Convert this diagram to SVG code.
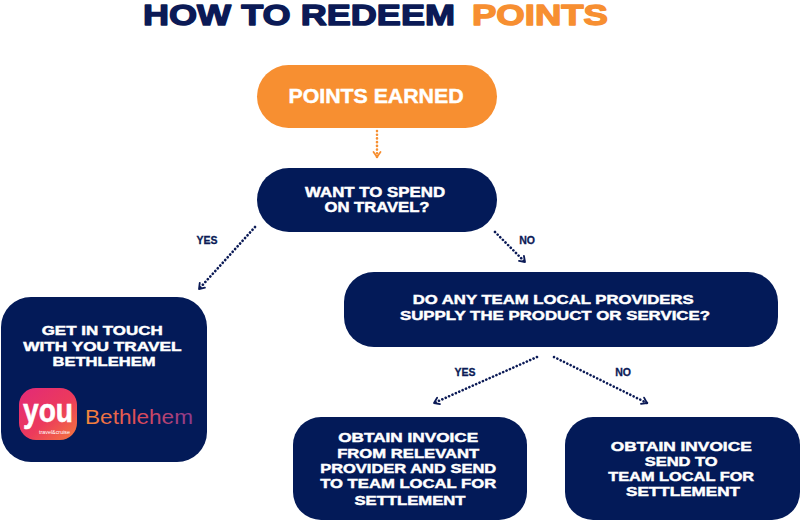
<svg xmlns="http://www.w3.org/2000/svg" width="800" height="521" viewBox="0 0 800 521">
<defs>
<style>
.t{font-family:"Liberation Sans",Arial,sans-serif;font-weight:bold;fill:#ffffff;stroke:#ffffff;stroke-width:0.45;}
.lbl{font-family:"Liberation Sans",Arial,sans-serif;font-weight:bold;fill:#0b1a56;stroke:#0b1a56;stroke-width:0.3;font-size:10.5px;}
.box{fill:#031a58;}
.dot{fill:none;stroke:#0b1a56;stroke-width:2.6;stroke-dasharray:0.1 3.6;stroke-linecap:round;}
.dotO{fill:none;stroke:#f78f31;stroke-width:2.6;stroke-dasharray:0.1 3.6;stroke-linecap:round;}
.ttl{font-family:"Liberation Sans",Arial,sans-serif;font-weight:bold;font-size:30px;stroke-width:1.4;stroke-linejoin:round;}
</style>
<marker id="ah" viewBox="0 0 10 10" refX="7" refY="5" markerWidth="10" markerHeight="10" markerUnits="userSpaceOnUse" orient="auto">
<path d="M2,1.5 L7,5 L2,8.5" fill="none" stroke="#0b1a56" stroke-width="1.8" stroke-linecap="round" stroke-linejoin="round"/>
</marker>
<marker id="ahO" viewBox="0 0 10 10" refX="7" refY="5" markerWidth="10" markerHeight="10" markerUnits="userSpaceOnUse" orient="auto">
<path d="M2,1.5 L7,5 L2,8.5" fill="none" stroke="#f78f31" stroke-width="1.8" stroke-linecap="round" stroke-linejoin="round"/>
</marker>
<linearGradient id="logoG" x1="0" y1="0" x2="1" y2="1">
<stop offset="0" stop-color="#e22a78"/>
<stop offset="0.55" stop-color="#ec3a5c"/>
<stop offset="1" stop-color="#f47a3c"/>
</linearGradient>
<linearGradient id="bethG" x1="0" y1="0" x2="1" y2="0">
<stop offset="0" stop-color="#f6883a"/>
<stop offset="0.5" stop-color="#de4a58"/>
<stop offset="1" stop-color="#8a3b8e"/>
</linearGradient>
</defs>
<rect width="800" height="521" fill="#ffffff"/>

<g id="title">
<text class="ttl" x="143" y="25" fill="#0b1a56" stroke="#0b1a56" textLength="312" lengthAdjust="spacingAndGlyphs">HOW TO REDEEM</text>
<text class="ttl" x="472" y="25" fill="#f78f31" stroke="#f78f31" textLength="136" lengthAdjust="spacingAndGlyphs">POINTS</text>
</g>

<g id="connectors">
<line class="dotO" x1="377" y1="131" x2="377" y2="157" marker-end="url(#ahO)"/>
<line class="dot" x1="255" y1="227" x2="199" y2="289" marker-end="url(#ah)"/>
<line class="dot" x1="495" y1="232" x2="525" y2="262" marker-end="url(#ah)"/>
<line class="dot" x1="537" y1="357" x2="434" y2="403" marker-end="url(#ah)"/>
<line class="dot" x1="554" y1="357" x2="647" y2="403" marker-end="url(#ah)"/>
<text class="lbl" x="207" y="244" text-anchor="middle">YES</text>
<text class="lbl" x="527" y="244" text-anchor="middle">NO</text>
<text class="lbl" x="465" y="376" text-anchor="middle">YES</text>
<text class="lbl" x="623" y="376" text-anchor="middle">NO</text>
</g>

<g id="points-earned">
<rect x="257" y="65" width="240" height="63" rx="31.5" fill="#f78f31"/>
<text class="t" x="376" y="103" font-size="20" text-anchor="middle" textLength="175" lengthAdjust="spacingAndGlyphs">POINTS EARNED</text>
</g>

<g id="want-to-spend">
<rect class="box" x="257" y="168" width="240" height="64" rx="32"/>
<text class="t" font-size="14" text-anchor="middle">
<tspan x="377" y="197" textLength="140" lengthAdjust="spacingAndGlyphs">WANT TO SPEND</tspan>
<tspan x="377" y="212" textLength="105" lengthAdjust="spacingAndGlyphs">ON TRAVEL?</tspan>
</text>
</g>

<g id="get-in-touch">
<rect class="box" x="1" y="297" width="206" height="165" rx="30"/>
<text class="t" font-size="13" text-anchor="middle">
<tspan x="104" y="335" textLength="121" lengthAdjust="spacingAndGlyphs">GET IN TOUCH</tspan>
<tspan x="104" y="351" textLength="158" lengthAdjust="spacingAndGlyphs">WITH YOU TRAVEL</tspan>
<tspan x="104" y="366" textLength="103" lengthAdjust="spacingAndGlyphs">BETHLEHEM</tspan>
</text>
<rect x="19" y="388" width="58" height="52" rx="17" fill="url(#logoG)"/>
<text x="23" y="422" font-family="Liberation Sans,Arial,sans-serif" font-weight="bold" font-size="34" fill="#ffffff" stroke="#ffffff" stroke-width="0.6" textLength="50" lengthAdjust="spacingAndGlyphs">you</text>
<text x="39" y="434" font-family="Liberation Sans,Arial,sans-serif" font-size="5.5" fill="#ffffff" textLength="31" lengthAdjust="spacingAndGlyphs">travel&amp;cruise</text>
<text x="85" y="424" font-family="Liberation Sans,Arial,sans-serif" font-size="21" fill="url(#bethG)" textLength="108" lengthAdjust="spacingAndGlyphs">Bethlehem</text>
</g>

<g id="local-providers">
<rect class="box" x="344" y="272" width="434" height="75" rx="30"/>
<text class="t" font-size="13" text-anchor="middle">
<tspan x="555" y="304" textLength="281" lengthAdjust="spacingAndGlyphs">DO ANY TEAM LOCAL PROVIDERS</tspan>
<tspan x="555" y="320" textLength="310" lengthAdjust="spacingAndGlyphs">SUPPLY THE PRODUCT OR SERVICE?</tspan>
</text>
</g>

<g id="invoice-provider">
<rect class="box" x="293" y="417" width="234" height="103" rx="28"/>
<text class="t" font-size="13" text-anchor="middle">
<tspan x="410" y="442" textLength="140" lengthAdjust="spacingAndGlyphs">OBTAIN INVOICE</tspan>
<tspan x="410" y="458" textLength="142" lengthAdjust="spacingAndGlyphs">FROM RELEVANT</tspan>
<tspan x="410" y="473" textLength="176" lengthAdjust="spacingAndGlyphs">PROVIDER AND SEND</tspan>
<tspan x="410" y="488" textLength="176" lengthAdjust="spacingAndGlyphs">TO TEAM LOCAL FOR</tspan>
<tspan x="410" y="505" textLength="111" lengthAdjust="spacingAndGlyphs">SETTLEMENT</tspan>
</text>
</g>

<g id="invoice-team-local">
<rect class="box" x="565" y="417" width="235" height="103" rx="28"/>
<text class="t" font-size="13" text-anchor="middle">
<tspan x="683" y="451" textLength="141" lengthAdjust="spacingAndGlyphs">OBTAIN INVOICE</tspan>
<tspan x="683" y="466" textLength="73" lengthAdjust="spacingAndGlyphs">SEND TO</tspan>
<tspan x="683" y="481" textLength="146" lengthAdjust="spacingAndGlyphs">TEAM LOCAL FOR</tspan>
<tspan x="683" y="496" textLength="114" lengthAdjust="spacingAndGlyphs">SETTLEMENT</tspan>
</text>
</g>
</svg>
